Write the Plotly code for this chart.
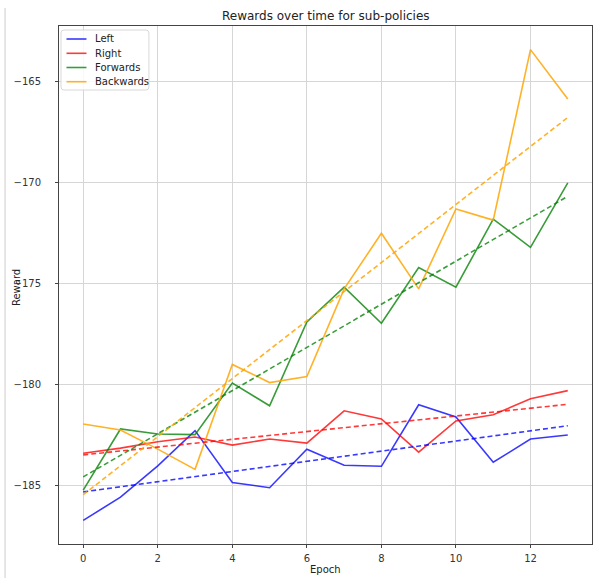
import numpy as np
import plotly.graph_objects as go

epochs = list(range(14))
left = [-186.73, -185.58, -184.03, -182.28, -184.85, -185.11, -183.2, -184.0, -184.05, -181.0, -181.6, -183.85, -182.7, -182.5]
right = [-183.4, -183.15, -182.83, -182.6, -183.0, -182.7, -182.9, -181.3, -181.7, -183.35, -181.8, -181.5, -180.7, -180.3]
forwards = [-185.23, -182.2, -182.45, -182.48, -179.92, -181.05, -176.9, -175.17, -176.96, -174.2, -175.17, -171.8, -173.2, -170.0]
backwards = [-181.95, -182.25, -183.2, -184.2, -179.0, -179.9, -179.6, -175.26, -172.5, -175.26, -171.3, -171.85, -163.4, -165.85]
x_ticks = [0, 2, 4, 6, 8, 10, 12]
y_ticks = [-185, -180, -175, -170, -165]

names = ["Left", "Right", "Forwards", "Backwards"]
values = [left, right, forwards, backwards]
colors = ["rgba(0,0,255,0.78)", "rgba(255,0,0,0.78)", "rgba(0,128,0,0.78)", "rgba(255,165,0,0.85)"]

W, H = 605, 578
ML, MR, MT, MB = 59, 12.5, 26, 34
PW, PH = W - ML - MR, H - MT - MB


def px(xp):
    return (xp - ML) / PW


def py(yp):
    return 1 - (yp - MT) / PH


fig = go.Figure()
x = np.array(epochs)
for name, vals, col in zip(names, values, colors):
    fig.add_trace(go.Scatter(x=epochs, y=vals, mode="lines", name=name, showlegend=False,
                             line=dict(color=col, width=1.6)))
for name, vals, col in zip(names, values, colors):
    m, b = np.polyfit(x, np.array(vals), 1)
    fig.add_trace(go.Scatter(x=epochs, y=(m * x + b).tolist(), mode="lines",
                             showlegend=False,
                             line=dict(color=col, width=1.6, dash="5px,3px")))

axis_common = dict(showline=True, mirror=True, linecolor="#444", linewidth=1,
                   showgrid=True, gridcolor="#d6d6d6", gridwidth=1,
                   ticks="outside", ticklen=3, tickcolor="#444", automargin=False,
                   zeroline=False, tickfont=dict(size=10, color="#333"))

shapes = [dict(type="line", xref="paper", yref="paper",
               x0=px(5), x1=px(5), y0=py(8), y1=py(578),
               line=dict(color="#cccccc", width=1))]

# legend box (rounded)
bx0, bx1, by0, by1, r = 61, 149, 30, 90, 3
path = (f"M {px(bx0 + r)} {py(by0)} L {px(bx1 - r)} {py(by0)} "
        f"Q {px(bx1)} {py(by0)} {px(bx1)} {py(by0 + r)} "
        f"L {px(bx1)} {py(by1 - r)} Q {px(bx1)} {py(by1)} {px(bx1 - r)} {py(by1)} "
        f"L {px(bx0 + r)} {py(by1)} Q {px(bx0)} {py(by1)} {px(bx0)} {py(by1 - r)} "
        f"L {px(bx0)} {py(by0 + r)} Q {px(bx0)} {py(by0)} {px(bx0 + r)} {py(by0)} Z")
shapes.append(dict(type="path", xref="paper", yref="paper", path=path,
                   fillcolor="rgba(255,255,255,0.85)", line=dict(color="#d8d8d8", width=1)))

annotations = []
entry_y = [39, 53.3, 67.5, 81.7]
for name, col, ey in zip(names, colors, entry_y):
    shapes.append(dict(type="line", xref="paper", yref="paper",
                       x0=px(66.5), x1=px(86.5), y0=py(ey), y1=py(ey),
                       line=dict(color=col, width=1.6)))
    annotations.append(dict(text=name, xref="paper", yref="paper", x=px(93.5), y=py(ey),
                            xanchor="left", yanchor="middle", showarrow=False,
                            font=dict(size=10, color="#222")))

annotations.append(dict(text="Rewards over time for sub-policies", xref="paper", yref="paper",
                        x=0.5, y=py(16.5), xanchor="center", yanchor="middle",
                        showarrow=False, font=dict(size=12, color="#222")))
annotations.append(dict(text="Epoch", xref="paper", yref="paper",
                        x=0.5, y=py(569), xanchor="center", yanchor="middle",
                        showarrow=False, font=dict(size=10, color="#222")))
annotations.append(dict(text="Reward", xref="paper", yref="paper",
                        x=px(16), y=py(288), xanchor="center", yanchor="middle",
                        textangle=-90, showarrow=False, font=dict(size=10, color="#222")))

fig.update_layout(
    width=W, height=H,
    margin=dict(l=ML, r=MR, t=MT, b=MB, pad=0),
    paper_bgcolor="white", plot_bgcolor="white",
    font=dict(family="DejaVu Sans", size=10, color="#333"),
    showlegend=False,
    xaxis=dict(range=[-0.65, 13.65], tickvals=x_ticks, ticklabelstandoff=2, **axis_common),
    yaxis=dict(range=[-187.9, -162.23], tickvals=y_ticks, ticklabelstandoff=12, **axis_common),
    shapes=shapes,
    annotations=annotations,
)

fig.write_html("out.html", config={"displayModeBar": False},
               post_script="document.body.style.margin='0';document.body.style.padding='0';")
